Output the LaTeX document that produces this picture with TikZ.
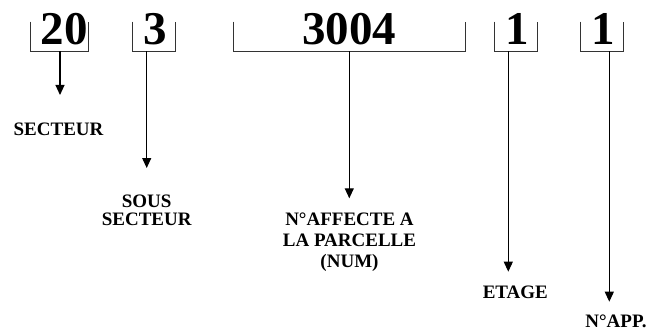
\documentclass[tikz,border=0pt]{standalone}
\usepackage{fontspec}
\setmainfont{Liberation Serif}
\usetikzlibrary{arrows.meta}
\begin{document}
\begin{tikzpicture}[x=1pt,y=-1pt,
  digit/.style={font=\fontsize{47}{47}\selectfont\bfseries, inner sep=0pt, anchor=base},
  label/.style={font=\fontsize{19}{19}\selectfont\bfseries, inner sep=0pt, anchor=base, align=center},
  bracket/.style={line width=1pt, black!80},
  pointer/.style={line width=1.1pt, -{Triangle[length=10pt,width=9pt]}}]
\useasboundingbox (0,0) rectangle (648,329);

% digit groups
\node[digit] (d1) at (64,45) {20};
\node[digit] (d2) at (155,45) {3};
\node[digit] (d3) at (349.3,45) {3004};
\node[digit] (d4) at (517,45) {1};
\node[digit] (d5) at (603.7,45) {1};

% brackets under each group
\draw[bracket] (30.7,21.7) -- (30.7,51.5) -- (88.7,51.5) -- (88.7,21.7);
\draw[bracket] (132,21.7) -- (132,51.5) -- (175.7,51.5) -- (175.7,21.7);
\draw[bracket] (233.3,21.7) -- (233.3,51.5) -- (465,51.5) -- (465,21.7);
\draw[bracket] (494,21.7) -- (494,51.5) -- (537.3,51.5) -- (537.3,21.7);
\draw[bracket] (580.5,21.7) -- (580.5,51.5) -- (623.5,51.5) -- (623.5,21.7);

% stems leaving the brackets
\coordinate (s1) at (60,51.5);
\coordinate (s2) at (146.7,51.5);
\coordinate (s3) at (349.3,51.5);
\coordinate (s4) at (508.3,51.5);
\coordinate (s5) at (609.3,51.5);

% arrow ends
\coordinate (e1) at (60,95);
\coordinate (e2) at (146.7,168);
\coordinate (e3) at (349.3,198.3);
\coordinate (e4) at (508.3,271.7);
\coordinate (e5) at (609.3,301.7);

% labels (multi-line labels are placed by the baseline of their last line)
\node[label] (l1) at (58.5,135) {SECTEUR};
\node[label, font=\fontsize{19}{16}\selectfont\bfseries] (l2) at (146.7,225) {SOUS\\[2pt]SECTEUR};
\node[label, font=\fontsize{19}{21}\selectfont\bfseries] (l3) at (349.5,267) {N°AFFECTE A\\LA PARCELLE\\(NUM)};
\node[label] (l4) at (515.3,298) {ETAGE};
\node[label] (l5) at (616,327.5) {N°APP.};

% pointers
\draw[pointer] (s1) -- (e1);
\draw[pointer] (s2) -- (e2);
\draw[pointer] (s3) -- (e3);
\draw[pointer] (s4) -- (e4);
\draw[pointer] (s5) -- (e5);
\end{tikzpicture}
\end{document}
